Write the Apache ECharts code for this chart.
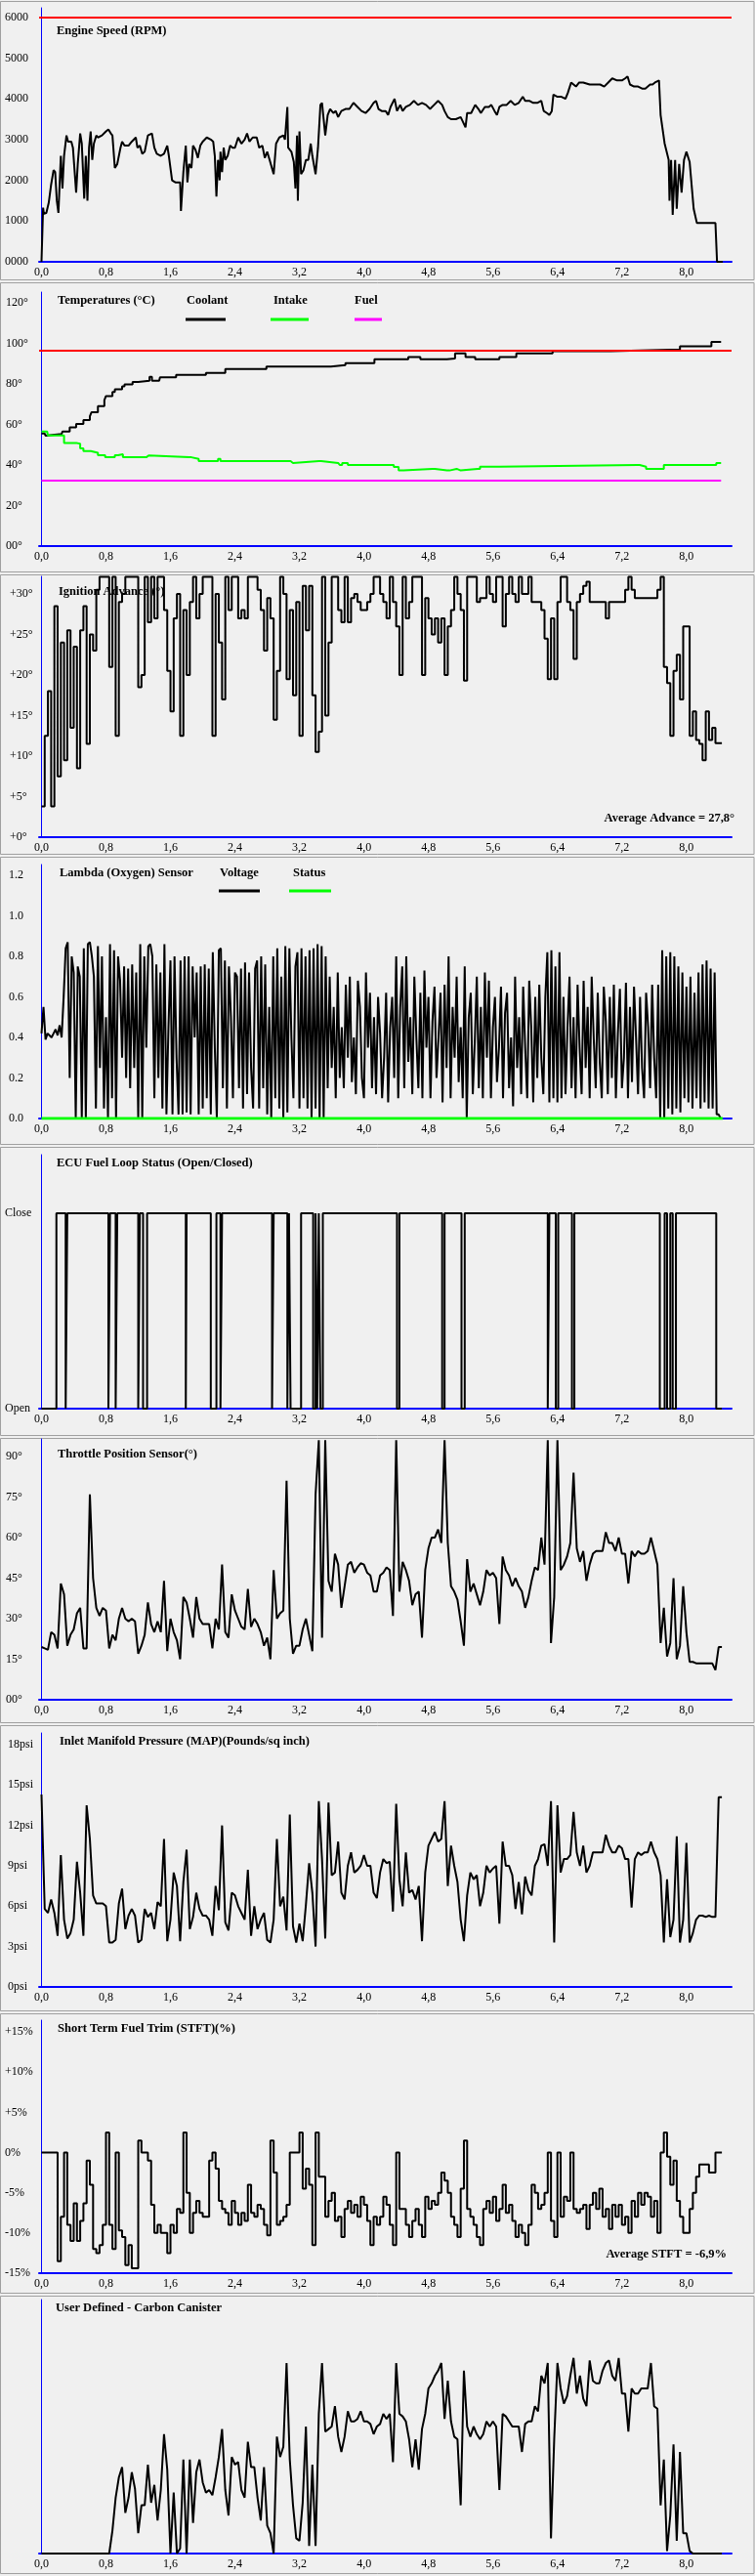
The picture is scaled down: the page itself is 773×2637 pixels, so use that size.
<!DOCTYPE html>
<html>
<head>
<meta charset="utf-8">
<script src="https://cdn.jsdelivr.net/npm/echarts@6/dist/echarts.min.js"></script>
<style>
  html, body { margin: 0; padding: 0; background: #f0f0f0; }
  #container { width: 773px; height: 2637px; }
</style>
</head>
<body>
<div id="container"></div>
<script>
// ---- data ----------------------------------------------------------------
var xTicks = [0, 0.8, 1.6, 2.4, 3.2, 4.0, 4.8, 5.6, 6.4, 7.2, 8.0];
var DT = 0.04;          // sample spacing of the logged channels
var DT_LAMBDA = 0.025;  // lambda sensor is logged faster

var rpmLimit = 6000;
var rpm = [[0,0],[0.015,0],[0.02,1330],[0.03,1180],[0.06,1200],[0.09,1450],[0.12,1900],[0.15,2250],[0.17,2200],[0.19,1500],[0.21,1200],[0.24,2600],[0.26,1800],[0.28,2600],[0.31,3100],[0.33,2950],[0.37,2950],[0.39,2800],[0.43,1700],[0.45,2400],[0.48,3150],[0.50,2900],[0.53,1550],[0.55,2600],[0.57,1500],[0.59,2800],[0.61,3200],[0.63,2500],[0.65,2900],[0.68,3100],[0.70,3050],[0.75,3100],[0.80,3200],[0.83,3250],[0.86,3150],[0.88,3100],[0.91,2300],[0.94,2400],[0.98,2800],[1.00,2950],[1.03,2850],[1.08,2850],[1.12,2950],[1.17,3050],[1.19,2800],[1.22,2850],[1.25,2650],[1.28,2700],[1.32,3100],[1.37,3150],[1.40,2800],[1.43,2650],[1.48,2600],[1.52,2650],[1.56,2850],[1.58,2600],[1.62,2000],[1.66,1950],[1.72,1950],[1.73,1250],[1.76,2200],[1.79,2850],[1.81,1950],[1.83,2400],[1.86,2300],[1.88,2850],[1.91,2750],[1.94,2550],[1.97,2850],[2.00,2950],[2.05,3050],[2.10,3000],[2.13,2950],[2.15,2600],[2.17,1600],[2.19,2500],[2.21,2000],[2.22,2700],[2.24,2200],[2.26,2800],[2.28,2500],[2.31,2600],[2.34,2850],[2.37,2800],[2.40,2800],[2.44,3050],[2.48,2900],[2.52,3000],[2.55,3150],[2.58,2950],[2.62,3050],[2.67,3050],[2.70,2800],[2.74,2850],[2.77,2550],[2.80,2700],[2.83,2500],[2.88,2150],[2.91,2900],[2.95,3050],[3.00,3100],[3.02,3000],[3.05,3800],[3.06,2800],[3.10,2700],[3.13,2450],[3.15,1800],[3.17,3100],[3.18,1500],[3.20,3200],[3.22,2150],[3.25,2250],[3.28,2500],[3.31,2500],[3.34,2900],[3.36,2600],[3.40,2150],[3.43,2800],[3.46,3850],[3.48,3900],[3.50,3500],[3.52,3100],[3.55,3600],[3.58,3750],[3.62,3650],[3.65,3700],[3.68,3550],[3.72,3700],[3.77,3750],[3.82,3750],[3.87,3900],[3.92,3800],[3.97,3700],[4.02,3650],[4.07,3750],[4.12,3900],[4.15,3950],[4.18,3750],[4.22,3700],[4.27,3700],[4.30,3600],[4.33,3800],[4.38,4000],[4.41,3700],[4.45,3850],[4.48,3700],[4.52,3800],[4.57,3850],[4.62,3950],[4.67,3850],[4.72,3900],[4.77,3850],[4.82,3750],[4.87,3850],[4.92,3950],[4.97,3850],[5.00,3700],[5.04,3550],[5.08,3500],[5.14,3500],[5.20,3550],[5.26,3300],[5.28,3650],[5.33,3650],[5.38,3850],[5.42,3750],[5.45,3650],[5.50,3800],[5.55,3800],[5.58,3850],[5.62,3700],[5.65,3600],[5.68,3800],[5.72,3850],[5.77,3850],[5.82,3950],[5.87,3850],[5.92,3900],[5.97,4050],[6.00,3950],[6.05,3950],[6.10,3900],[6.15,3900],[6.20,3950],[6.23,3700],[6.27,3650],[6.30,3600],[6.33,3700],[6.35,4100],[6.40,4050],[6.45,4050],[6.50,4000],[6.53,4150],[6.57,4400],[6.60,4350],[6.63,4300],[6.67,4400],[6.72,4400],[6.80,4350],[6.88,4350],[6.93,4350],[6.98,4300],[7.03,4400],[7.08,4500],[7.14,4450],[7.20,4450],[7.24,4500],[7.27,4550],[7.30,4350],[7.35,4300],[7.40,4300],[7.45,4250],[7.49,4250],[7.55,4350],[7.58,4350],[7.61,4400],[7.66,4450],[7.68,3600],[7.73,2900],[7.78,2500],[7.79,1500],[7.81,2500],[7.83,1150],[7.86,2500],[7.88,1300],[7.91,2400],[7.94,1700],[7.97,2500],[8.00,2700],[8.04,2450],[8.09,1300],[8.13,950],[8.36,950],[8.38,0],[8.45,0]];

var tempLimit = 96.4;
var coolant = [[0,55.5],[0.04,55.5],[0.05,54.5],[0.07,55.3],[0.25,55.3],[0.26,56.5],[0.35,58.5],[0.43,60.2],[0.52,62.2],[0.60,64],[0.62,66],[0.70,69],[0.78,72],[0.80,74],[0.88,76],[0.91,77.4],[1.00,78.8],[1.03,79.8],[1.13,81],[1.20,81.6],[1.34,83.5],[1.37,81.6],[1.46,81.6],[1.47,83.3],[1.67,84.4],[2.04,85.4],[2.28,87.4],[2.79,88.5],[3.59,89.3],[3.77,90.3],[4.13,92.2],[4.55,93.2],[4.70,92.2],[5.03,92.5],[5.13,95.1],[5.26,93.2],[5.38,92.2],[5.68,93.2],[5.89,95.1],[6.34,96.1],[7.06,97.0],[7.92,98.6],[8.31,100.7],[8.43,100.7]];
var intake = [[0,56.5],[0.07,56.5],[0.08,54.6],[0.24,54.6],[0.28,50.9],[0.43,50.5],[0.48,48.2],[0.52,46.9],[0.61,46],[0.70,44.8],[0.79,43.8],[0.91,44.8],[0.95,45.3],[1.01,43.8],[1.27,43.8],[1.30,44.7],[1.33,43.8],[1.83,43.8],[1.86,43],[1.95,41.9],[2.16,41.9],[2.19,43],[2.22,41.9],[3.06,41.9],[3.09,41],[3.12,41.9],[3.44,41.9],[3.47,41],[3.68,41],[3.70,40],[3.73,41],[3.80,40],[4.34,40],[4.37,39],[4.43,37.3],[4.49,38.1],[4.85,38.1],[4.88,37.3],[5.03,37.3],[5.06,38.1],[5.15,38.1],[5.17,37.3],[5.20,38.1],[5.41,38.1],[5.44,39.2],[5.65,39.2],[5.68,40],[7.39,40],[7.42,39.2],[7.50,38.1],[7.68,38.1],[7.72,40],[8.34,40],[8.37,41],[8.43,41]];
var fuel = [[0,32.3],[8.43,32.3]];

var ignition = [3.8,12.5,18,3.8,28.5,7.5,24,9.5,25.5,13.5,
  23.5,8.5,25.5,28.5,11.5,25,23,30.5,32.1,32.1,
  32.1,21,32.1,12.5,29,30,32.1,32.1,32.1,32.1,
  18.5,20,32.1,26.5,32.1,27,32.1,32.1,28,20.5,
  15.5,27,30,12.5,28,20,29,32.1,27,30,
  32.1,32.1,32.1,12.5,30,24,17,32.1,28,32.1,
  32.1,27,28,27,32.1,32.1,32.1,30.5,28,23,
  29.5,27,14.5,20.5,32.1,30,19.5,28,17.5,29,
  12.5,31,25.5,31,17.5,10.5,13,32.1,15,24,
  32.1,32.1,28,26.5,32.1,26.5,29.5,30,29,28,
  28,29,30,32.1,32.1,30,29,27,32.1,29,
  26,20,32.1,27,29,32.1,32.1,32.1,20,29.5,
  27,25,27,24,27,20,26,28,32.1,30,
  28,19.3,32.1,32.1,32.1,29,29.5,29.5,32.1,30,
  29,32.1,32.1,26,30,32.1,30,29,32.1,30,
  30,32.1,29,29,29,28,24.5,19.5,27,19.5,
  29,32.1,32.1,29,28,22,29,30,31,31.5,
  29,29,29,29,29,27,29,29,29,29,
  29,30.5,32.1,30.5,29.5,29.5,29.5,29.5,29.5,29.5,
  29.5,30.5,32.1,21,19,12.5,20.5,22.5,17,26,
  26,12.5,15.5,12,11.5,9.5,15.5,12,13.5,11.6,
  11.6,11.6];

var lambdaVolt = [0.42,0.55,0.39,0.42,0.41,0.40,0.42,0.44,0.41,0.46,0.40,
  0.60,0.84,0.87,0.20,0.80,0.72,0.00,0.75,0.70,0.00,
  0.84,0.00,0.86,0.87,0.80,0.70,0.05,0.85,0.25,0.80,
  0.05,0.50,0.00,0.86,0.10,0.83,0.00,0.80,0.68,0.30,
  0.75,0.20,0.74,0.15,0.76,0.25,0.72,0.00,0.86,0.00,
  0.80,0.35,0.85,0.86,0.80,0.10,0.76,0.20,0.72,0.05,
  0.86,0.02,0.45,0.78,0.02,0.80,0.30,0.02,0.78,0.02,
  0.80,0.03,0.80,0.02,0.75,0.40,0.72,0.02,0.75,0.05,
  0.76,0.10,0.74,0.02,0.82,0.35,0.00,0.83,0.84,0.15,
  0.78,0.05,0.75,0.50,0.10,0.72,0.70,0.15,0.74,0.05,
  0.77,0.12,0.72,0.25,0.05,0.74,0.78,0.05,0.80,0.15,
  0.76,0.02,0.55,0.00,0.80,0.10,0.84,0.05,0.70,0.00,
  0.85,0.03,0.84,0.40,0.10,0.75,0.82,0.05,0.84,0.10,
  0.80,0.05,0.83,0.00,0.84,0.05,0.86,0.00,0.85,0.00,
  0.80,0.15,0.70,0.25,0.55,0.10,0.72,0.20,0.45,0.15,
  0.66,0.30,0.70,0.18,0.40,0.12,0.68,0.55,0.20,0.10,
  0.72,0.35,0.62,0.15,0.50,0.12,0.60,0.42,0.10,0.30,
  0.62,0.08,0.45,0.60,0.20,0.80,0.10,0.55,0.75,0.15,
  0.80,0.28,0.50,0.12,0.70,0.40,0.15,0.62,0.10,0.73,
  0.35,0.60,0.10,0.48,0.65,0.20,0.40,0.62,0.08,0.66,
  0.25,0.80,0.10,0.55,0.30,0.70,0.18,0.45,0.10,0.75,
  0.00,0.50,0.62,0.12,0.38,0.70,0.15,0.55,0.10,0.72,
  0.30,0.68,0.10,0.45,0.60,0.18,0.35,0.65,0.10,0.52,
  0.62,0.15,0.40,0.06,0.70,0.25,0.50,0.12,0.65,0.35,
  0.10,0.68,0.45,0.08,0.60,0.20,0.66,0.30,0.12,0.60,
  0.82,0.08,0.83,0.10,0.75,0.08,0.82,0.10,
  0.60,0.12,0.45,0.70,0.15,0.50,0.10,0.66,0.35,0.12,
  0.68,0.25,0.55,0.10,0.70,0.40,0.15,0.62,0.28,0.10,
  0.65,0.48,0.12,0.60,0.20,0.66,0.10,0.42,0.64,0.15,
  0.30,0.67,0.10,0.55,0.18,0.65,0.40,0.12,0.60,0.25,
  0.10,0.62,0.45,0.15,0.66,0.30,0.10,0.66,
  0.00,0.83,0.00,0.80,
  0.05,0.82,0.02,0.80,0.05,0.75,0.03,0.72,0.10,0.65,
  0.08,0.70,0.05,0.62,0.10,0.72,0.05,0.76,0.08,0.78,
  0.05,0.74,0.05,0.72,0.02,0.02,0.00];
var lambdaStatus = [[0,0],[8.45,0]];

// closed loop = 1, open loop = 0, value holds until next time
var loopT = [0,0.185,0.30,0.32,0.83,0.85,0.92,0.94,1.20,1.22,1.26,1.31,1.79,1.80,2.10,2.17,2.22,2.24,2.86,2.88,3.05,3.07,3.09,3.22,3.37,3.40,3.42,3.44,3.46,3.49,4.41,4.44,4.97,5.00,5.21,5.25,6.28,6.30,6.38,6.41,6.58,6.61,7.67,7.73,7.76,7.80,7.83,7.87,8.37,8.44];
var loopV = [0,1,0,1,0,1,0,1,0,1,0,1,0,1,0,1,0,1,0,1,0,1,0,1,0,1,0,1,0,1,0,1,0,1,0,1,0,1,0,1,0,1,0,1,0,1,0,1,0,0];

var throttle = [19.5,19,18.5,25,24,19,43,39,20,24,
  26,32,34,19,19,76,45,34,31,34,
  33,19,24,22,30,34,30,29,30,29,
  17,20,24,36,28,25,29,25,44,18,
  30,25,22,15,38,36,30,23,38,30,
  28,28,28,19,30,26,50,25,23,39,
  33,30,27,26,41,27,30,28,25,20,
  23,15,48,30,32,33,81,30,17,20,
  20,26,30,24,18,76,96,23,96,44,
  40,54,50,34,42,50,51,47,49,50.5,
  50,47,46,40,40,46,47,49,48,31,
  96,40,51,48,44,35,39,40,23,48,
  56,60,60,63,58,96,58,42,40,37,
  29,20,52,40,43,39,35,40,48,46,
  47,45,28,53,48,46,42,45,42,40,
  34,38,44,49,48,60,50,96,21,38,
  96,48,50,53,58,84,56,51,55,44,
  50,54,55,55,55,62,58,58,55,60,
  54,54,43,55,53,55,54,54,55,60,
  55,50,21,34,16,21,45,15,20,42,
  25,14,14,13.5,13.5,13.5,13.5,13.5,13.5,11,
  19.5,19.5];

var mapPsi = [14.3,5.8,5.5,6.5,5.5,3.8,9.8,5,3.6,4,
  5,9.3,7,3.8,13.5,11,6.8,6.2,6.2,6.2,
  6,3.3,3.3,3.5,6.2,7.3,4.3,5.3,5.8,5.3,
  3.3,3.5,5.8,5.2,5.5,4.3,6.3,6,11,3.4,
  5,8.5,7.5,3.4,7.8,10.2,4.3,5.2,7,5.8,
  5.3,5.3,5,3.8,7.5,5.7,12,4.8,4.2,7,
  6.8,6,5.5,5,8.7,3.8,6,4.3,5,5.5,
  3.5,3.3,5,11,6,6.7,4.2,12.8,4.5,3.3,
  4.7,3.4,6.1,9.2,7,3,13.8,9.5,3.6,13.7,
  8.3,8.5,10.8,7,6.5,9,10,8.5,8.7,9,
  9.8,9,9,7,6.6,8.5,9.5,9.2,9.3,5.6,
  13.6,8,6,10,7,7.2,6.5,7.5,3.4,8.5,
  10.5,11,11.5,10.8,11,13.8,7.5,10.5,9,7.8,
  5,3.4,6.8,8.5,8,8.3,6,7,9,8.5,
  8.8,9,4.7,10.8,9,9,8.3,5.8,7.8,5.4,
  8.2,7.2,6.8,9,9.5,10.5,10.6,9,13.8,3.3,
  13.5,8.5,9.5,9.5,9.8,13,10,9,10.5,8.5,
  9,10,10,10,10,11.3,10.5,10,10,10.5,
  10.3,9.5,9.5,5.9,9.5,10,9.8,10,10,10.8,
  10,9.5,8.3,3.3,8,3.7,5,11.2,3.3,5,
  10.7,3.3,4,5,5.3,5.3,5.2,5.3,5.2,5.2,
  14.1,14.1];

var stft = [0,0,0,0,0,-13.5,-8,0,-9,-11,
  -6.3,-11,-8.5,-6.3,-1,-4,-12,-12.5,-11.5,-9,
  2.5,-9,-12,0,-9.7,-10.5,-14,-11.5,-14.4,-14.4,
  1.5,0,0,-1,-6.5,-10,-9,-10,-10,-12.5,
  -9,-10,-7,-7.5,2.5,-5,-10,-7.5,-6,-7.5,
  -8,-8,-1,0,-2,-6,-7,-7.5,-9,-6,
  -7.5,-9,-7.5,-8.5,-4,-7.5,-8,-6.5,-7,-9,
  -10.3,1.5,-2.5,-9,-8.5,-8,-6.5,0,0,0,
  2.5,-4.5,-2,-4,-11.5,2.5,-3,-3,-8,-6,
  -5,-8.5,-8,-10.5,-7,-6,-7.5,-6.5,-8,-5.5,
  -6.5,-8.5,-11.5,-8,-9,-8,-5.5,-6.5,-9,-11.5,
  0,-7,-7,-9,-10.5,-8.5,-7,-9,-10.5,-5.5,
  -7,-6,-6.5,-5,-2.5,-3.5,-5,-8,-9,-10.5,
  -4.5,1.5,-7,-8,-9,-10.5,-11.5,-7,-6,-7.5,
  -5.5,-8.5,-7,-4,-7.5,-6.5,-8.5,-10.5,-9,-10,
  -11.5,-9,-4,-5,-7,-6.5,-5,0,-8.5,-10.5,
  0,-8,-5.5,-6,0,-7,-7.5,-7,-6.5,-9.5,
  -6.5,-5,-7,-4.5,-8,-7,-9.5,-6.5,-8,-6.5,
  -9,-8,-10,-6,-8,-5,-6.5,-5,-5.5,-8,
  -6,-10,0,2.5,-0.5,-4,-1,-6,-8,-10,
  -10,-7,-5,-3,-1.5,-1.5,-1.5,-2.5,-2.5,0,
  0,0];

var canister = [0,0,0,0,0,0,0,0,0,0,
  0,0,0,0,0,0,0,0,0,0,
  0,0,9,22,30,34,16,22,32,25.5,
  8,19,19,35,20,27,13,25,47,33,
  0,24,0,2,37,0,37,12,32,37,
  28,24,25,23,30,38,49,25,15,38,
  35,36,25,22,44,34,34,22,13,34,
  11,8,0,46,38,42,75,37,19,6,
  5,20,50,3,35,3,55,75,48,49,
  50,58,46,40,46,56,52,52,53,56,
  52,52,51,47,50,51,55,53,55,36,
  75,55,54,52,45,34,45,33,49,55,
  65,67,70,72,75,53,68,52,46,45,
  19,72,50,46,50,47,45,47,52,50,
  52,50,25,55,54,52,50,50,50,40,
  51,52,52,58,56,70,67,75,6,45,
  75,65,59,62,70,77,63,70,61,58,
  76,68,67,67,72,75,76,70,68,77,
  63,63,48,65,63,63,65,65,65,75,
  58,57,19,37,1,15,43,5,40,8,
  8,1,0,0,0,0,0,0,0,0,
  0,0];

var ignitionAvg = '27,8°';
var stftAvg = '-6,9%';

// ---- layout ----------------------------------------------------------------
var SERIF = '"Liberation Serif", "Times New Roman", serif';
function deg(v) { return (v === 0 ? '00' : v) + '°'; }
var panels = [
  { top: 8,    height: 260, min: 0,   max: 6232,  ticks: [0,1000,2000,3000,4000,5000,6000], fmt: function (v) { return ('000' + v).slice(-4); }, labelX: 5, box: 1 },
  { top: 299,  height: 260, min: 0,   max: 125.3, ticks: [0,20,40,60,80,100,120], fmt: deg, labelX: 6, box: 289 },
  { top: 590,  height: 267, min: 0,   max: 32.17, ticks: [0,5,10,15,20,25,30], fmt: function (v) { return '+' + v + '°'; }, labelX: 10, box: 588 },
  { top: 885,  height: 260, min: 0,   max: 1.253, ticks: [0,0.2,0.4,0.6,0.8,1.0,1.2], fmt: function (v) { return v.toFixed(1); }, labelX: 9, box: 877 },
  { top: 1182, height: 260, min: 0,   max: 1.3,   ticks: [0,1], fmt: function (v) { return v ? 'Close' : 'Open'; }, labelX: 5, box: 1174 },
  { top: 1473, height: 267, min: 0,   max: 96.5,  ticks: [0,15,30,45,60,75,90], fmt: deg, labelX: 6, box: 1472 },
  { top: 1774, height: 260, min: 0,   max: 18.87, ticks: [0,3,6,9,12,15,18], fmt: function (v) { return v + 'psi'; }, labelX: 8, box: 1766 },
  { top: 2068, height: 259, min: -15, max: 16.46, ticks: [-15,-10,-5,0,5,10,15], fmt: function (v) { return (v > 0 ? '+' : '') + v + '%'; }, labelX: 5, box: 2061 },
  { top: 2354, height: 260, min: 0,   max: 100,   ticks: [], fmt: null, labelX: 5, box: 2350 }
];

var titles = [
  ['Engine Speed (RPM)', 58, 32],
  ['Temperatures (°C)', 59, 308],
  ['Ignition Advance (°)', 60, 606],
  ['Lambda (Oxygen) Sensor', 61, 894],
  ['ECU Fuel Loop Status (Open/Closed)', 58, 1191],
  ['Throttle Position Sensor(°)', 59, 1489],
  ['Inlet Manifold Pressure (MAP)(Pounds/sq inch)', 61, 1783],
  ['Short Term Fuel Trim (STFT)(%)', 59, 2077],
  ['User Defined - Carbon Canister', 57, 2363]
];

function indexed(values, dt) {
  return values.map(function (v, i) { return [+(i * dt).toFixed(3), v]; });
}
function steps(ts, vs) {
  return ts.map(function (t, i) { return [t, vs[i]]; });
}

var grids = [], xAxes = [], yAxes = [], graphics = [];
panels.forEach(function (p, i) {
  grids.push({ left: 40, right: 24, top: p.top, height: p.height, outerBoundsMode: 'none' });
  xAxes.push({
    type: 'value', gridIndex: i, min: -0.03, max: 8.56,
    axisLine: { show: true, onZero: false, lineStyle: { color: '#0000ff', width: 2 } },
    axisTick: { show: false },
    splitLine: { show: false },
    axisLabel: {
      customValues: xTicks,
      formatter: function (v) { return v.toFixed(1).replace('.', ','); },
      fontFamily: SERIF, fontSize: 12, color: '#000', margin: 5
    }
  });
  yAxes.push({
    type: 'value', gridIndex: i, min: p.min, max: p.max,
    axisLine: { show: true, lineStyle: { color: '#0000ff', width: 1 } },
    axisTick: { show: false },
    splitLine: { show: false },
    axisLabel: {
      show: p.ticks.length > 0,
      customValues: p.ticks,
      formatter: p.fmt || '',
      align: 'left', margin: 40 - p.labelX,
      fontFamily: SERIF, fontSize: 12, color: '#000'
    }
  });
  var next = i + 1 < panels.length ? panels[i + 1].box : 2637;
  graphics.push({
    type: 'rect', z: -10, silent: true,
    shape: { x: 0.5, y: p.box + 0.5, width: 771.5, height: next - p.box - 3 },
    style: { fill: '#f0f0f0', stroke: '#a0a0a0', lineWidth: 1 }
  });
});

titles.forEach(function (t) {
  graphics.push({
    type: 'text', x: t[1], y: t[2], z: 100, silent: true,
    style: { text: t[0], fontFamily: SERIF, fontWeight: 'bold', fontSize: 12.5, fill: '#000', verticalAlign: 'middle' }
  });
});

function legendItem(label, x, y, lx1, lx2, ly, color) {
  graphics.push({
    type: 'text', x: x, y: y, z: 100, silent: true,
    style: { text: label, fontFamily: SERIF, fontWeight: 'bold', fontSize: 12.5, fill: '#000', verticalAlign: 'middle' }
  });
  graphics.push({
    type: 'line', z: 100, silent: true,
    shape: { x1: lx1, y1: ly, x2: lx2, y2: ly },
    style: { stroke: color, lineWidth: 3 }
  });
}
legendItem('Coolant', 191, 308, 190, 231, 327, '#000000');
legendItem('Intake', 280, 308, 277, 316, 327, '#00ff00');
legendItem('Fuel', 363, 308, 363, 391, 327, '#ff00ff');
legendItem('Voltage', 225, 894, 224, 266, 912, '#000000');
legendItem('Status', 300, 894, 296, 339, 912, '#00ff00');

graphics.push({
  type: 'text', x: 752, y: 838, z: 100, silent: true,
  style: { text: 'Average Advance = ' + ignitionAvg, fontFamily: SERIF, fontWeight: 'bold', fontSize: 12.5, fill: '#000', align: 'right', verticalAlign: 'middle' }
});
graphics.push({
  type: 'text', x: 744, y: 2308, z: 100, silent: true,
  style: { text: 'Average STFT = ' + stftAvg, fontFamily: SERIF, fontWeight: 'bold', fontSize: 12.5, fill: '#000', align: 'right', verticalAlign: 'middle' }
});

function line(idx, data, color, width, extra) {
  var s = {
    type: 'line', xAxisIndex: idx, yAxisIndex: idx, data: data,
    showSymbol: false, symbol: 'none', silent: true, clip: true, z: 2,
    lineStyle: { color: color, width: width }
  };
  for (var k in extra) s[k] = extra[k];
  return s;
}
function limit(idx, value) {
  return {
    type: 'line', xAxisIndex: idx, yAxisIndex: idx, data: [], silent: true, z: 1,
    markLine: {
      symbol: 'none', silent: true, animation: false, label: { show: false },
      lineStyle: { color: '#ff0000', width: 2, type: 'solid' },
      data: [{ yAxis: value }]
    }
  };
}

var series = [
  limit(0, rpmLimit),
  line(0, rpm, '#000', 2),
  limit(1, tempLimit),
  line(1, coolant, '#000', 2, { step: 'end' }),
  line(1, intake, '#00ff00', 2, { step: 'end' }),
  line(1, fuel, '#ff00ff', 2),
  line(2, indexed(ignition, DT), '#000', 2, { step: 'end' }),
  line(3, indexed(lambdaVolt, DT_LAMBDA), '#000', 2),
  line(3, lambdaStatus, '#00ff00', 3),
  line(4, steps(loopT, loopV), '#000', 2, { step: 'end' }),
  line(5, indexed(throttle, DT), '#000', 2),
  line(6, indexed(mapPsi, DT), '#000', 2),
  line(7, indexed(stft, DT), '#000', 2, { step: 'end' }),
  line(8, indexed(canister, DT), '#000', 2)
];

var dom = document.getElementById('container');
var myChart = echarts.init(dom, null, { renderer: 'canvas' });
myChart.setOption({
  animation: false,
  backgroundColor: '#f0f0f0',
  grid: grids,
  xAxis: xAxes,
  yAxis: yAxes,
  graphic: graphics,
  series: series
});
window.addEventListener('resize', myChart.resize);
</script>
</body>
</html>
